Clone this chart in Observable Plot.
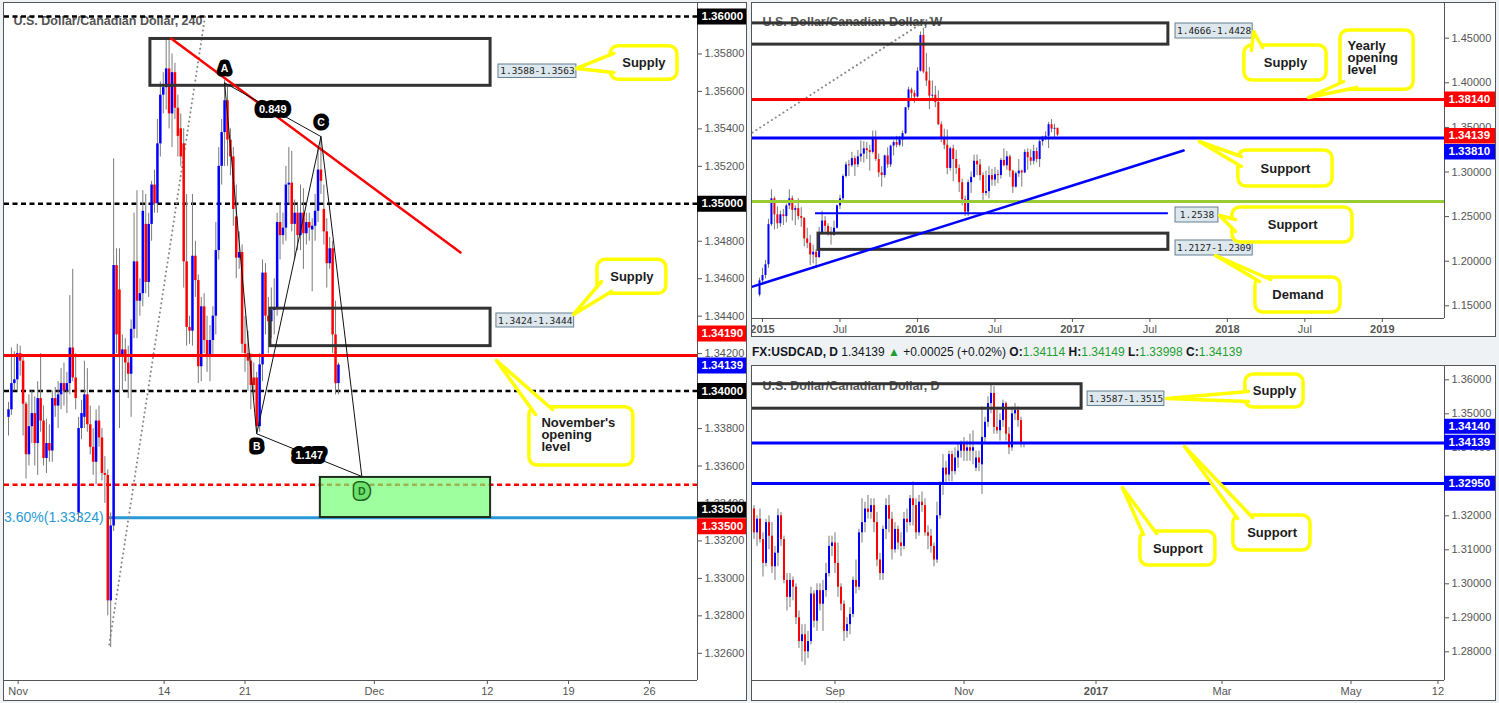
<!DOCTYPE html>
<html><head><meta charset="utf-8">
<script src="https://cdn.jsdelivr.net/npm/d3@7"></script>
<script src="https://cdn.jsdelivr.net/npm/@observablehq/plot@0.6"></script>
<style>
html,body{margin:0;padding:0;background:#eff2f5;width:1499px;height:703px;overflow:hidden;font-family:"Liberation Sans",Arial,sans-serif;}
.panel{position:absolute;box-sizing:border-box;border:1px solid #555;background:#fff;overflow:hidden;}
.panel svg{position:absolute;left:0;top:0;}
#hdr{position:absolute;left:752px;top:345px;font-size:12px;line-height:15px;white-space:nowrap;color:#131722;}
#hdr b{font-weight:bold}
#hdr .g{color:#1f9e2f}
</style></head><body>
<div id="p4h" class="panel" style="left:3px;top:2px;width:744px;height:699px"></div>
<div id="pw" class="panel" style="left:751px;top:2px;width:745px;height:335px"></div>
<div id="hdr"><b>FX:USDCAD, D</b> 1.34139 <span class="g">▲</span> +0.00025 (+0.02%) <b>O:</b><span class="g">1.34114</span> <b>H:</b><span class="g">1.34149</span> <b>L:</b><span class="g">1.33998</span> <b>C:</b><span class="g">1.34139</span></div>
<div id="pd" class="panel" style="left:751px;top:365px;width:745px;height:336px"></div>
<script>
// ---------------- DATA ----------------
// 4H candles [open, high, low, close]
const h4 = [
[1.3386,1.3394,1.3376,1.3390],[1.3390,1.3423,1.3387,1.3404],[1.3404,1.3421,1.3400,1.3406],[1.3406,1.3425,1.3400,1.3420],
[1.3420,1.3424,1.3408,1.3416],[1.3416,1.3418,1.3376,1.3393],[1.3393,1.3394,1.3353,1.3366],[1.3366,1.3398,1.3360,1.3381],
[1.3381,1.3400,1.3372,1.3388],[1.3388,1.3397,1.3360,1.3372],[1.3372,1.3405,1.3355,1.3396],[1.3396,1.3420,1.3378,1.3384],
[1.3384,1.3392,1.3360,1.3364],[1.3364,1.3385,1.3356,1.3372],[1.3372,1.3382,1.3362,1.3368],[1.3368,1.3400,1.3362,1.3396],
[1.3396,1.3402,1.3386,1.3392],[1.3392,1.3405,1.3380,1.3398],[1.3398,1.3412,1.3390,1.3404],[1.3404,1.3415,1.3392,1.3400],
[1.3400,1.3410,1.3388,1.3404],[1.3404,1.3451,1.3398,1.3423],[1.3423,1.3465,1.3405,1.3407],[1.3407,1.3420,1.3390,1.3396],
[1.3335,1.3386,1.3330,1.3380],[1.3380,1.3395,1.3374,1.3388],[1.3386,1.3416,1.3380,1.3398],[1.3398,1.3412,1.3378,1.3382],
[1.3382,1.3392,1.3366,1.3370],[1.3370,1.3380,1.3355,1.3362],[1.3362,1.3390,1.3350,1.3384],[1.3384,1.3392,1.3370,1.3375],
[1.3375,1.3380,1.3352,1.3356],[1.3356,1.3365,1.3340,1.3355],[1.3355,1.3358,1.3280,1.3288],[1.3288,1.3335,1.3263,1.3328],
[1.3328,1.3524,1.3325,1.3467],[1.3467,1.3476,1.3420,1.3430],[1.3454,1.3476,1.3380,1.3418],[1.3418,1.3430,1.3400,1.3422],
[1.3422,1.3428,1.3405,1.3415],[1.3415,1.3424,1.3396,1.3409],[1.3409,1.3438,1.3386,1.3433],[1.3433,1.3495,1.3428,1.3469],
[1.3469,1.3507,1.3428,1.3448],[1.3448,1.3460,1.3440,1.3452],[1.3452,1.3507,1.3445,1.3496],[1.3489,1.3505,1.3452,1.3458],
[1.3458,1.3495,1.3450,1.3489],[1.3489,1.3512,1.3480,1.3510],[1.3510,1.3518,1.3495,1.3500],[1.3500,1.3545,1.3495,1.3532],
[1.3532,1.3565,1.3525,1.3558],[1.3558,1.3570,1.3548,1.3562],[1.3562,1.3588,1.3550,1.3572],[1.3572,1.3588,1.3540,1.3548],
[1.3548,1.3580,1.3530,1.3570],[1.3570,1.3575,1.3545,1.3551],[1.3551,1.3558,1.3525,1.3536],[1.3540,1.3548,1.3520,1.3525],
[1.3532,1.3540,1.3455,1.3469],[1.3469,1.3505,1.3424,1.3434],[1.3434,1.3440,1.3425,1.3432],[1.3432,1.3505,1.3424,1.3472],
[1.3472,1.3480,1.3450,1.3459],[1.3459,1.3462,1.3404,1.3413],[1.3413,1.3450,1.3405,1.3445],[1.3445,1.3452,1.3420,1.3427],
[1.3427,1.3440,1.3410,1.3419],[1.3419,1.3435,1.3405,1.3427],[1.3427,1.3445,1.3418,1.3440],[1.3440,1.3490,1.3430,1.3475],
[1.3475,1.3530,1.3470,1.3520],[1.3520,1.3545,1.3510,1.3538],[1.3538,1.3566,1.3520,1.3555],[1.3555,1.3563,1.3520,1.3534],
[1.3534,1.3540,1.3515,1.3525],[1.3525,1.3530,1.3488,1.3497],[1.3493,1.3510,1.3460,1.3471],[1.3471,1.3485,1.3465,1.3474],
[1.3474,1.3478,1.3420,1.3425],[1.3425,1.3440,1.3410,1.3420],[1.3420,1.3432,1.3400,1.3416],[1.3416,1.3420,1.3390,1.3403],
[1.3407,1.3415,1.3395,1.3403],[1.3407,1.3410,1.3377,1.3381],[1.3381,1.3420,1.3378,1.3414],[1.3414,1.3470,1.3405,1.3463],
[1.3463,1.3468,1.3430,1.3440],[1.3440,1.3450,1.3420,1.3437],[1.3437,1.3455,1.3428,1.3443],[1.3443,1.3460,1.3430,1.3444],
[1.3444,1.3495,1.3440,1.3490],[1.3490,1.3500,1.3470,1.3483],[1.3483,1.3495,1.3478,1.3487],[1.3487,1.3520,1.3480,1.3510],
[1.3510,1.3530,1.3500,1.3511],[1.3511,1.3528,1.3485,1.3489],[1.3489,1.3502,1.3470,1.3495],[1.3495,1.3500,1.3475,1.3483],
[1.3483,1.3510,1.3475,1.3495],[1.3495,1.3508,1.3465,1.3484],[1.3484,1.3495,1.3478,1.3490],[1.3490,1.3495,1.3480,1.3487],
[1.3486,1.3492,1.3453,1.3488],[1.3488,1.3505,1.3480,1.3496],[1.3496,1.3530,1.3490,1.3518],[1.3518,1.3536,1.3505,1.3512],
[1.3497,1.3510,1.3478,1.3485],[1.3485,1.3492,1.3455,1.3468],[1.3468,1.3482,1.3465,1.3476],[1.3476,1.3480,1.3420,1.3430],
[1.3430,1.3448,1.3398,1.3404],[1.3404,1.3415,1.3398,1.34139]
];
// Weekly candles, week of 2014-12-29 .. 2016-11-28
const weekly = [
[1.1620,1.1810,1.1600,1.1780],[1.1780,1.1920,1.1730,1.1840],[1.1840,1.2010,1.1800,1.1960],[1.1960,1.2470,1.1920,1.2410],
[1.2410,1.2800,1.2390,1.2700],[1.2700,1.2720,1.2350,1.2520],[1.2520,1.2610,1.2360,1.2420],[1.2420,1.2560,1.2380,1.2520],
[1.2520,1.2580,1.2400,1.2500],[1.2500,1.2640,1.2430,1.2620],[1.2620,1.2800,1.2580,1.2700],[1.2700,1.2730,1.2450,1.2570],
[1.2570,1.2620,1.2400,1.2590],[1.2590,1.2700,1.2460,1.2500],[1.2500,1.2600,1.2380,1.2480],[1.2480,1.2490,1.2160,1.2250],
[1.2250,1.2370,1.2140,1.2200],[1.2200,1.2290,1.1950,1.2070],[1.2070,1.2180,1.1970,1.2100],[1.2100,1.2130,1.1920,1.2040],
[1.2040,1.2380,1.2030,1.2320],[1.2320,1.2560,1.2300,1.2450],[1.2450,1.2500,1.2330,1.2390],[1.2390,1.2420,1.2280,1.2320],
[1.2320,1.2380,1.2180,1.2290],[1.2290,1.2450,1.2280,1.2370],[1.2370,1.2630,1.2360,1.2620],[1.2620,1.2740,1.2580,1.2700],
[1.2700,1.2970,1.2680,1.2950],[1.2950,1.3110,1.2930,1.3080],[1.3080,1.3130,1.2950,1.3070],[1.3070,1.3220,1.3050,1.3150],
[1.3150,1.3180,1.2950,1.3080],[1.3080,1.3240,1.3050,1.3170],[1.3170,1.3350,1.3110,1.3200],[1.3200,1.3340,1.3100,1.3260],
[1.3260,1.3330,1.3140,1.3240],[1.3240,1.3300,1.3010,1.3220],[1.3220,1.3460,1.3200,1.3370],[1.3370,1.3460,1.3120,1.3140],
[1.3140,1.3200,1.2940,1.2990],[1.2990,1.3060,1.2830,1.2960],[1.2960,1.3190,1.2930,1.3180],[1.3180,1.3270,1.3040,1.3080],
[1.3080,1.3300,1.3050,1.3290],[1.3290,1.3350,1.3180,1.3330],[1.3330,1.3400,1.3270,1.3300],[1.3300,1.3400,1.3280,1.3360],
[1.3360,1.3460,1.3280,1.3430],[1.3430,1.3720,1.3420,1.3720],[1.3720,1.3950,1.3690,1.3920],[1.3920,1.3940,1.3790,1.3880],
[1.3880,1.3910,1.3770,1.3840],[1.3840,1.4170,1.3830,1.4130],[1.4130,1.4570,1.4120,1.4530],[1.4530,1.4612,1.4100,1.4120],
[1.4120,1.4330,1.3960,1.4020],[1.4020,1.4170,1.3700,1.3850],[1.3850,1.4020,1.3820,1.3860],[1.3860,1.3960,1.3720,1.3780],
[1.3780,1.3910,1.3520,1.3530],[1.3530,1.3560,1.3330,1.3380],[1.3380,1.3480,1.3250,1.3300],[1.3300,1.3470,1.2970,1.3040],
[1.3040,1.3280,1.3010,1.3260],[1.3260,1.3300,1.2890,1.3140],[1.3140,1.3240,1.2970,1.3040],[1.3040,1.3080,1.2770,1.2880],
[1.2880,1.2920,1.2620,1.2690],[1.2690,1.2730,1.2500,1.2550],[1.2550,1.2910,1.2500,1.2880],[1.2880,1.3000,1.2760,1.2940],
[1.2940,1.3190,1.2930,1.3120],[1.3120,1.3190,1.2960,1.3080],[1.3080,1.3140,1.2900,1.2960],[1.2960,1.2990,1.2650,1.2760],
[1.2760,1.3010,1.2730,1.2780],[1.2780,1.3060,1.2700,1.2960],[1.2960,1.3030,1.2840,1.2910],[1.2910,1.3050,1.2840,1.2970],
[1.2970,1.3020,1.2870,1.2960],[1.2960,1.3150,1.2920,1.3130],[1.3130,1.3260,1.3060,1.3070],[1.3070,1.3230,1.3020,1.3170],
[1.3170,1.3190,1.2940,1.3010],[1.3010,1.3020,1.2760,1.2830],[1.2830,1.3000,1.2820,1.2980],[1.2980,1.3140,1.2940,1.3010],
[1.3010,1.3020,1.2830,1.2990],[1.2990,1.3250,1.2980,1.3220],[1.3220,1.3260,1.3020,1.3160],[1.3160,1.3250,1.3070,1.3120],
[1.3120,1.3300,1.3080,1.3230],[1.3230,1.3270,1.3100,1.3140],[1.3140,1.3380,1.3050,1.3340],[1.3340,1.3400,1.3290,1.3390],
[1.3390,1.3450,1.3350,1.3400],[1.3400,1.3555,1.3263,1.3530],[1.3530,1.3588,1.3440,1.3480],[1.3480,1.3535,1.3380,1.3490],
[1.3490,1.3490,1.3398,1.34139]
];
// Daily candles, 2016-07-25 .. 2016-11-29
const daily = [
[1.3150,1.3230,1.3140,1.3220],[1.3220,1.3230,1.3130,1.3150],[1.3150,1.3200,1.3110,1.3190],[1.3190,1.3220,1.3120,1.3130],[1.3130,1.3150,1.3020,1.3060],
[1.3060,1.3190,1.3050,1.3180],[1.3180,1.3200,1.3100,1.3140],[1.3140,1.3180,1.3030,1.3050],[1.3050,1.3110,1.3010,1.3090],[1.3090,1.3220,1.3050,1.3200],
[1.3200,1.3210,1.3110,1.3130],[1.3130,1.3140,1.3000,1.3010],[1.3010,1.3030,1.2920,1.2960],[1.2960,1.3030,1.2930,1.3010],[1.3010,1.3020,1.2950,1.2990],
[1.2990,1.3000,1.2880,1.2900],[1.2900,1.2920,1.2810,1.2830],[1.2830,1.2880,1.2770,1.2850],[1.2850,1.2880,1.2760,1.2800],[1.2800,1.2860,1.2780,1.2830],
[1.2830,1.2990,1.2820,1.2970],[1.2970,1.2980,1.2870,1.2890],[1.2890,1.3000,1.2860,1.2980],[1.2980,1.3000,1.2920,1.2940],[1.2940,1.3010,1.2860,1.2980],
[1.2980,1.3060,1.2960,1.3030],[1.3030,1.3140,1.3020,1.3110],[1.3110,1.3140,1.3080,1.3120],
[1.3120,1.3150,1.3030,1.3060],[1.3060,1.3120,1.2960,1.2990],
[1.2990,1.3000,1.2920,1.2940],[1.2940,1.2950,1.2830,1.2860],[1.2860,1.2900,1.2840,1.2880],[1.2880,1.2930,1.2850,1.2910],[1.2910,1.3020,1.2900,1.3010],
[1.3010,1.3070,1.2970,1.2990],[1.2990,1.3160,1.2980,1.3150],[1.3150,1.3250,1.3120,1.3180],[1.3180,1.3240,1.3150,1.3220],[1.3220,1.3260,1.3190,1.3210],
[1.3210,1.3250,1.3190,1.3230],[1.3230,1.3250,1.3150,1.3180],[1.3180,1.3210,1.3050,1.3070],[1.3070,1.3090,1.3010,1.3030],[1.3030,1.3170,1.3010,1.3160],
[1.3160,1.3250,1.3130,1.3230],[1.3230,1.3260,1.3150,1.3190],[1.3190,1.3210,1.3070,1.3100],[1.3100,1.3180,1.3090,1.3160],[1.3160,1.3170,1.3100,1.3120],
[1.3120,1.3150,1.3080,1.3110],[1.3110,1.3210,1.3100,1.3190],[1.3190,1.3220,1.3150,1.3180],[1.3180,1.3260,1.3170,1.3250],[1.3250,1.3300,1.3170,1.3230],
[1.3230,1.3250,1.3130,1.3150],[1.3150,1.3260,1.3140,1.3240],[1.3240,1.3270,1.3210,1.3230],[1.3230,1.3250,1.3140,1.3150],[1.3150,1.3170,1.3100,1.3140],
[1.3140,1.3160,1.3090,1.3110],[1.3110,1.3120,1.3050,1.3070],[1.3070,1.3240,1.3060,1.3200],[1.3200,1.3300,1.3190,1.3290],[1.3290,1.3380,1.3260,1.3340],
[1.3340,1.3360,1.3290,1.3320],[1.3320,1.3390,1.3300,1.3380],[1.3380,1.3390,1.3300,1.3330],[1.3330,1.3400,1.3320,1.3370],[1.3370,1.3410,1.3340,1.3390],
[1.3390,1.3420,1.3370,1.3410],
[1.3410,1.3430,1.3360,1.3390],[1.3390,1.3420,1.3360,1.3400],[1.3400,1.3440,1.3360,1.3390],[1.3390,1.3450,1.3350,1.3400],
[1.3340,1.3390,1.3330,1.3370],[1.3370,1.3390,1.3330,1.3355],[1.3350,1.3520,1.3263,1.3430],[1.3430,1.3490,1.3415,1.3475],[1.3475,1.3550,1.3460,1.3530],
[1.3530,1.3588,1.3500,1.3560],[1.3560,1.3580,1.3440,1.3460],[1.3460,1.3510,1.3440,1.3450],[1.3450,1.3500,1.3420,1.3480],[1.3480,1.3540,1.3460,1.3530],
[1.3530,1.3535,1.3420,1.3440],[1.3440,1.3460,1.3380,1.3400],[1.3400,1.3520,1.3390,1.3500],[1.3500,1.3530,1.3480,1.3510],[1.3510,1.3520,1.3460,1.3480],
[1.3480,1.3490,1.3400,1.3411],[1.3411,1.3415,1.3400,1.34139]
];

// Time-axis ticks (in bar units) and labels
const h4TickAt    = [3.3, 53.3, 81.0, 125.3, 164.0, 191.8, 219.5];
const h4TickLabel = ["Nov","14","21","Dec","12","19","26"];
const wTickAt     = [1, 27, 53, 79, 105, 131, 157, 183, 209];
const wTickLabel  = ["2015","Jul","2016","Jul","2017","Jul","2018","Jul","2019"];
const dTickAt     = [28, 71, 115, 157, 200, 229];
const dTickLabel  = ["Sep","Nov","2017","Mar","May","12"];
// Price-axis ticks (those fully hidden behind a price badge are left out)
const h4PriceTicks = [1.326,1.328,1.330,1.332,1.334,1.336,1.338,1.342,1.344,1.346,1.348,1.352,1.354,1.356,1.358];
const wPriceTicks  = [1.15,1.20,1.25,1.30,1.35,1.40,1.45];
const dPriceTicks  = [1.28,1.29,1.30,1.31,1.32,1.34,1.35,1.36];

// Levels
const h4Round   = [1.36, 1.35, 1.34];
const h4NovOpen = 1.3419;
const h4Half    = 1.3350;
const h4FibLvl  = 1.33324;
const wYearOpen = 1.3814, wSupport = 1.3381, wGreen = 1.2669, wSupport2 = 1.2538;
const dSupport  = [1.3414, 1.3295];

// Zones [x1,x2,low,high]
const h4Zones  = [[48.6,165.1,1.3563,1.3588],[89.7,165.1,1.3424,1.3444]];
const h4Target = [106.8,165.1,1.33325,1.33539];
const wZones   = [[-8,137.2,1.4428,1.4666],[19.8,137.2,1.2127,1.2309]];
const dZones   = [[-5,110.2,1.3515,1.3587]];

// Harmonic pattern points
const patName = ["A","B","C","D"];
const patBar  = [74, 85, 107, 121];
const patPx   = [1.35646, 1.33772, 1.35359, 1.33544];

// ---------------- HELPERS ----------------
const FONT = "'Liberation Sans', Arial, Helvetica, sans-serif";
const UP = "#0000ff", DOWN = "#ff0000", WICK = "#7a7a7a", YEL = "#ffff00";
const rowsOf = a => a.map((r,i)=>({i,o:r[0],h:r[1],l:r[2],c:r[3]}));

function candleMarks(rows, bw){
  const d = rowsOf(rows);
  return [
    Plot.ruleX(d,{x:"i",y1:"l",y2:"h",stroke:WICK,strokeWidth:1}),
    Plot.ruleX(d,{x:"i",y1:"o",y2:"c",stroke:q=>q.c>=q.o?UP:DOWN,strokeWidth:bw})
  ];
}
function calloutMarks(list){
  const tails = list.flatMap((c,k)=>c.tail.map(([x,y])=>({k,x,y})));
  const mid = list.filter(c=>!c.left), left = list.filter(c=>c.left);
  return [
    Plot.rect(list,{x1:"x1",x2:"x2",y1:"y1",y2:"y2",fill:"#fff",stroke:YEL,strokeWidth:3.5,rx:8,ry:8}),
    Plot.line(tails,{x:"x",y:"y",z:"k",fill:"#fff",stroke:YEL,strokeWidth:3.5,strokeLinejoin:"round"}),
    Plot.text(mid,{x:"tx",y:"ty",text:"text",fontWeight:"bold",fontSize:13,fill:"#1c1c1c",fontFamily:FONT}),
    Plot.text(left,{x:"tx",y:"ty",text:"text",textAnchor:"start",lineAnchor:"top",lineHeight:0.92,fontWeight:"bold",fontSize:13,fill:"#1c1c1c",fontFamily:FONT})
  ];
}
function rangeLabelMarks(list){
  return [
    Plot.rect(list,{x1:"x1",x2:"x2",y1:"y1",y2:"y2",fill:"#dde7ee",stroke:"#667f92",strokeWidth:1}),
    Plot.text(list,{x:d=>(d.x1+d.x2)/2,y:d=>(d.y1+d.y2)/2,text:"text",fontFamily:"'DejaVu Sans Mono', monospace",fontSize:9.5,fill:"#222"})
  ];
}
function zoneMarks(z, opts){
  return Plot.rect(z,{x1:d=>d[0],x2:d=>d[1],y1:d=>d[2],y2:d=>d[3],...opts});
}
function panel({W,H,mr,mb,xd,yd,title,tdx,tdy,body,yTicks,xAt,xLab,bold,badges,bh}){
  const kx = (xd[1]-xd[0])/(W-mr);
  const xr = xd[1]+mr*kx;
  const lab = new Map(xAt.map((v,i)=>[v,xLab[i]]));
  const normal = xAt.filter(v=>!bold.includes(lab.get(v)));
  const strong = xAt.filter(v=>bold.includes(lab.get(v)));
  const ax = {anchor:"bottom",tickSize:4,tickPadding:3,tickFormat:v=>lab.get(v),color:"#555",fontSize:11,fontFamily:FONT,label:null};
  const marks = [
    Plot.text([title],{text:d=>d,frameAnchor:"top-left",dx:tdx,dy:tdy,textAnchor:"start",lineAnchor:"middle",fill:"#555",fontWeight:"bold",fontSize:12.5,fontFamily:FONT}),
    ...body,
    Plot.ruleX([xd[1]],{stroke:"#555",strokeWidth:1}),
    Plot.ruleY([yd[0]],{stroke:"#555",strokeWidth:1}),
    Plot.axisY(yTicks,{anchor:"right",tickSize:4,tickPadding:3,tickFormat:v=>v.toFixed(5),color:"#555",fontSize:11,fontFamily:FONT,label:null}),
    Plot.axisX(normal,ax)
  ];
  if (strong.length) marks.push(Plot.axisX(strong,{...ax,fontWeight:"bold"}));
  marks.push(
    Plot.ruleY(badges,{y:"at",x1:xd[1],x2:xr,stroke:"c",strokeWidth:bh}),
    Plot.text(badges,{y:"at",x:xd[1]+4*kx,text:"t",textAnchor:"start",fill:"#fff",fontWeight:"bold",fontSize:11.5,fontFamily:FONT})
  );
  return Plot.plot({
    width:W,height:H,marginLeft:0,marginTop:0,marginRight:mr,marginBottom:mb,
    x:{domain:xd,axis:null},y:{domain:yd,axis:null},color:{type:"identity"},
    style:{fontFamily:FONT,fontSize:"11px",background:"#fff",overflow:"hidden"},
    marks
  });
}

// ---------------- 4H PANEL ----------------
{
  const xd = [-1.37, 235.96], yd = [1.324548, 1.360694];
  const P = patName.map((n,k)=>({n,i:patBar[k],p:patPx[k]}));
  const segs = [[0,1],[1,2],[2,3],[0,2],[1,3]].map(([a,b])=>({x1:P[a].i,y1:P[a].p,x2:P[b].i,y2:P[b].p}));
  const ratios = [{t:"0.849",a:0,b:2},{t:"1.147",a:1,b:3}].map(r=>({t:r.t,i:(P[r.a].i+P[r.b].i)/2,p:(P[r.a].p+P[r.b].p)/2}));
  const trend = [{i:55.7,p:1.358825},{i:154.8,p:1.3474}];
  const fibDots = [{i:34.5,p:1.32647},{i:67.5,p:1.3602}];
  const ranges = [
    {text:"1.3588-1.3563",x1:167.8,x2:194.5,y1:1.356717,y2:1.357437},
    {text:"1.3424-1.3444",x1:167.1,x2:193.7,y1:1.343396,y2:1.344143}
  ];
  const calls = [
    {text:"Supply",x1:206.2,x2:229.1,y1:1.356620,y2:1.358414,tx:217.6,ty:1.357517,tail:[[207.3,1.358025],[194.5,1.357224],[207.3,1.357010]]},
    {text:"Supply",x1:201.7,x2:225.3,y1:1.345195,y2:1.347010,tx:213.5,ty:1.346119,tail:[[203.1,1.345851],[193.5,1.344090],[206.5,1.345318]]},
    {text:"November's\nopening\nlevel",left:true,x1:178.4,x2:214.0,y1:1.336028,y2:1.339140,tx:182.5,ty:1.338536,tail:[[180.5,1.338750],[167.1,1.341634],[186.3,1.339017]]}
  ];
  const body = [
    Plot.ruleY(h4Round,{stroke:"#000",strokeWidth:2.5,strokeDasharray:"5,3.5"}),
    Plot.ruleY([h4Half],{stroke:"#ff0000",strokeWidth:2.5,strokeDasharray:"5,3.5"}),
    Plot.ruleY([h4FibLvl],{x1:34.2,x2:xd[1],stroke:"#2899d5",strokeWidth:3}),
    Plot.text(["23.60%(1.33324)"],{text:d=>d,x:32.6,y:h4FibLvl,textAnchor:"end",fill:"#2899d5",fontSize:14,fontFamily:FONT}),
    Plot.line(fibDots,{x:"i",y:"p",stroke:"#888",strokeWidth:2,strokeDasharray:"0.1,4.5",strokeLinecap:"round"}),
    ...candleMarks(h4,2.5),
    Plot.ruleY([h4NovOpen],{stroke:"#ff0000",strokeWidth:3}),
    zoneMarks(h4Zones,{fill:"none",stroke:"#333",strokeWidth:3}),
    zoneMarks([h4Target],{fill:"#74ff74",fillOpacity:0.7,stroke:"#1e2e1e",strokeWidth:2}),
    Plot.line(trend,{x:"i",y:"p",stroke:"#ff0000",strokeWidth:2.5}),
    Plot.link(segs,{x1:"x1",y1:"y1",x2:"x2",y2:"y2",stroke:"#111",strokeWidth:1}),
    Plot.text(ratios,{x:"i",y:"p",text:"t",fill:"#fff",stroke:"#000",strokeWidth:10,strokeLinejoin:"round",fontWeight:"bold",fontSize:11,fontFamily:FONT}),
    Plot.text(P.filter(d=>d.n==="A"||d.n==="C"),{x:"i",y:"p",text:"n",dy:-14,fill:"#fff",stroke:"#000",strokeWidth:9,strokeLinejoin:"round",fontWeight:"bold",fontSize:10.5,fontFamily:FONT}),
    Plot.text(P.filter(d=>d.n==="B"),{x:"i",y:"p",text:"n",dy:13,fill:"#fff",stroke:"#000",strokeWidth:9,strokeLinejoin:"round",fontWeight:"bold",fontSize:10.5,fontFamily:FONT}),
    Plot.text(P.filter(d=>d.n==="D"),{x:"i",y:"p",text:"n",dy:15,fill:"#1a5c1a",stroke:"#1a5c1a",strokeWidth:12,strokeLinejoin:"round",fontWeight:"bold",fontSize:10.5,fontFamily:FONT}),
    Plot.text(P.filter(d=>d.n==="D"),{x:"i",y:"p",text:"n",dy:15,fill:"#1a6e1a",stroke:"#6ee06e",strokeWidth:9,strokeLinejoin:"round",fontWeight:"bold",fontSize:10.5,fontFamily:FONT}),
    ...rangeLabelMarks(ranges),
    ...calloutMarks(calls)
  ];
  const badges = [
    {t:"1.36000",at:1.36,c:"#000"},{t:"1.35000",at:1.35,c:"#000"},
    {t:"1.34190",at:1.34308,c:"#ff0000"},{t:"1.34139",at:1.341367,c:"#0000ff"},
    {t:"1.34000",at:1.34,c:"#000"},{t:"1.33500",at:1.333663,c:"#000"},{t:"1.33500",at:1.332787,c:"#ff0000"}
  ];
  document.getElementById("p4h").append(panel({W:742,H:697,mr:49,mb:20,xd,yd,
    title:"U.S. Dollar/Canadian Dollar, 240",tdx:9,tdy:17,body,yTicks:h4PriceTicks,
    xAt:h4TickAt,xLab:h4TickLabel,bold:[],badges,bh:16}));
}

// ---------------- WEEKLY PANEL ----------------
{
  const xd = [-2.356, 229.86], yd = [1.13576, 1.48890];
  const trend = [{i:-2.36,p:1.17152},{i:142.3,p:1.32410}];
  const dots = [{i:-2.36,p:1.34428},{i:57.4,p:1.47321}];
  const ranges = [
    {text:"1.4666-1.4428",x1:139.6,x2:165.5,y1:1.44966,y2:1.46648},
    {text:"1.2538",x1:139.6,x2:154.0,y1:1.24338,y2:1.26020},
    {text:"1.2127-1.2309",x1:139.6,x2:165.5,y1:1.20640,y2:1.22321}
  ];
  const calls = [
    {text:"Supply",x1:162.7,x2:190.3,y1:1.40258,y2:1.44182,tx:176.5,ty:1.42220,tail:[[165.1,1.43621],[165.8,1.45751],[168.8,1.43957]]},
    {text:"Yearly\nopening\nlevel",left:true,x1:194.96,x2:219.5,y1:1.39215,y2:1.45863,tx:197.3,ty:1.44630,tail:[[196.0,1.40146],[184.2,1.38352],[200.4,1.39473]]},
    {text:"Support",x1:160.7,x2:192.3,y1:1.28374,y2:1.32410,tx:176.5,ty:1.30392,tail:[[161.7,1.31738],[147.6,1.33419],[161.7,1.30617]]},
    {text:"Support",x1:158.7,x2:198.98,y1:1.22096,y2:1.26020,tx:178.9,ty:1.24058,tail:[[159.7,1.24675],[154.4,1.25123],[159.7,1.23330]]},
    {text:"Demand",x1:166.4,x2:194.96,y1:1.14249,y2:1.18173,tx:180.7,ty:1.16211,tail:[[167.8,1.17724],[153.0,1.20639],[171.5,1.17948]]}
  ];
  const body = [
    Plot.line(dots,{x:"i",y:"p",stroke:"#888",strokeWidth:2,strokeDasharray:"0.1,4.5",strokeLinecap:"round"}),
    ...candleMarks(weekly,2),
    zoneMarks(wZones,{fill:"none",stroke:"#333",strokeWidth:3}),
    Plot.ruleY([wYearOpen],{stroke:"#ff0000",strokeWidth:3}),
    Plot.ruleY([wSupport],{stroke:"#0000ff",strokeWidth:3}),
    Plot.ruleY([wGreen],{stroke:"#99cc33",strokeWidth:3}),
    Plot.ruleY([wSupport2],{x1:18.8,x2:137.2,stroke:"#0000ff",strokeWidth:2}),
    Plot.line(trend,{x:"i",y:"p",stroke:"#0000ff",strokeWidth:2.5}),
    ...rangeLabelMarks(ranges),
    ...calloutMarks(calls)
  ];
  const badges = [
    {t:"1.38140",at:1.3815,c:"#ff0000"},{t:"1.34139",at:1.3407,c:"#ff0000"},{t:"1.33810",at:1.32276,c:"#0000ff"}
  ];
  document.getElementById("pw").append(panel({W:743,H:333,mr:51,mb:18,xd,yd,
    title:"U.S. Dollar/Canadian Dollar, W",tdx:10,tdy:18,body,yTicks:wPriceTicks,
    xAt:wTickAt,xLab:wTickLabel,bold:["2015","2016","2017","2018","2019"],badges,bh:15.5}));
}

// ---------------- DAILY PANEL ----------------
{
  const xd = [0.5, 231.17], yd = [1.271559, 1.363912];
  const ranges = [{text:"1.3587-1.3515",x1:112.2,x2:137.8,y1:1.35229,y2:1.35656}];
  const calls = [
    {text:"Supply",x1:164.8,x2:184.2,y1:1.35185,y2:1.36156,tx:174.5,ty:1.35685,tail:[[165.8,1.35656],[138.5,1.35450],[165.8,1.35362]]},
    {text:"Support",x1:160.8,x2:186.5,y1:1.30979,y2:1.32009,tx:173.7,ty:1.31509,tail:[[162.2,1.31921],[144.5,1.34038],[167.2,1.31950]]},
    {text:"Support",x1:129.8,x2:154.8,y1:1.30538,y2:1.31538,tx:142.3,ty:1.31038,tail:[[130.8,1.31450],[123.8,1.32832],[135.2,1.31479]]}
  ];
  const body = [
    ...candleMarks(daily,2),
    zoneMarks(dZones,{fill:"none",stroke:"#333",strokeWidth:3}),
    Plot.ruleY(dSupport,{stroke:"#0000ff",strokeWidth:3}),
    ...rangeLabelMarks(ranges),
    ...calloutMarks(calls)
  ];
  const badges = [
    {t:"1.34140",at:1.34632,c:"#0000ff"},{t:"1.34139",at:1.34162,c:"#0000ff"},{t:"1.32950",at:1.32959,c:"#0000ff"}
  ];
  document.getElementById("pd").append(panel({W:743,H:334,mr:51,mb:20,xd,yd,
    title:"U.S. Dollar/Canadian Dollar, D",tdx:10,tdy:19,body,yTicks:dPriceTicks,
    xAt:dTickAt,xLab:dTickLabel,bold:["2017"],badges,bh:15}));
}
</script>
</body></html>
